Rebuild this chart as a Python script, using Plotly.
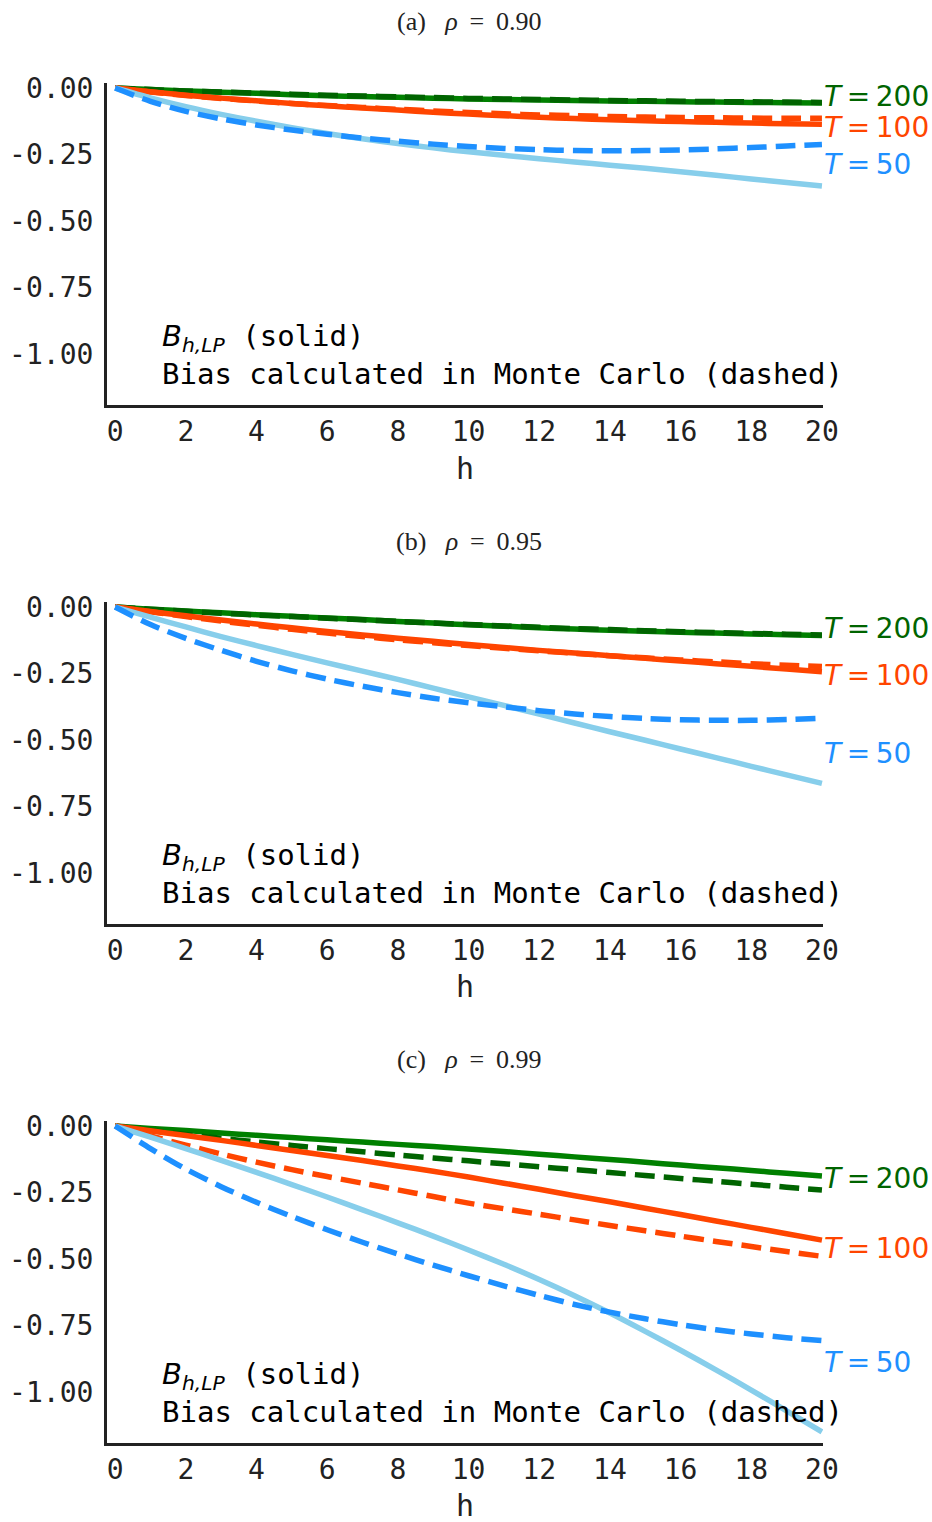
import plotly.graph_objects as go

# ---------------- data ----------------
h = list(range(21))

# panel (a) rho = 0.90
a_T200_solid = [0, -0.006, -0.011, -0.016, -0.020, -0.025, -0.029, -0.032, -0.035, -0.038, -0.041, -0.043, -0.045, -0.047, -0.049, -0.050, -0.052, -0.053, -0.054, -0.055, -0.056]
a_T200_dash = [0, -0.006, -0.011, -0.015, -0.019, -0.023, -0.027, -0.030, -0.033, -0.036, -0.039, -0.041, -0.043, -0.045, -0.047, -0.048, -0.050, -0.051, -0.052, -0.053, -0.054]
a_T100_solid = [0, -0.014, -0.027, -0.038, -0.048, -0.058, -0.067, -0.075, -0.083, -0.091, -0.098, -0.104, -0.110, -0.115, -0.119, -0.123, -0.126, -0.129, -0.132, -0.134, -0.136]
a_T100_dash = [0, -0.015, -0.028, -0.039, -0.049, -0.058, -0.066, -0.073, -0.080, -0.086, -0.092, -0.097, -0.101, -0.104, -0.107, -0.109, -0.111, -0.112, -0.113, -0.114, -0.114]
a_T50_solid = [0, -0.037, -0.070, -0.099, -0.125, -0.149, -0.171, -0.191, -0.209, -0.225, -0.240, -0.253, -0.266, -0.278, -0.290, -0.302, -0.315, -0.328, -0.342, -0.355, -0.368]
a_T50_dash = [0, -0.050, -0.088, -0.116, -0.139, -0.158, -0.174, -0.188, -0.200, -0.211, -0.220, -0.227, -0.232, -0.235, -0.236, -0.235, -0.233, -0.229, -0.224, -0.218, -0.212]

# panel (b) rho = 0.95
b_T200_solid = [0, -0.008, -0.015, -0.022, -0.029, -0.035, -0.041, -0.047, -0.054, -0.060, -0.067, -0.072, -0.078, -0.083, -0.087, -0.091, -0.095, -0.098, -0.101, -0.104, -0.107]
b_T200_dash = [0, -0.008, -0.016, -0.023, -0.030, -0.036, -0.042, -0.048, -0.054, -0.060, -0.066, -0.071, -0.076, -0.081, -0.085, -0.089, -0.093, -0.096, -0.099, -0.102, -0.105]
b_T100_solid = [0, -0.017, -0.033, -0.049, -0.064, -0.078, -0.092, -0.105, -0.117, -0.129, -0.141, -0.152, -0.163, -0.173, -0.183, -0.193, -0.203, -0.213, -0.223, -0.233, -0.243]
b_T100_dash = [0, -0.018, -0.036, -0.053, -0.069, -0.084, -0.098, -0.111, -0.123, -0.134, -0.145, -0.155, -0.165, -0.174, -0.183, -0.191, -0.199, -0.206, -0.213, -0.219, -0.224]
b_T50_solid = [0, -0.038, -0.075, -0.111, -0.145, -0.178, -0.210, -0.241, -0.272, -0.305, -0.338, -0.370, -0.403, -0.436, -0.469, -0.501, -0.534, -0.566, -0.599, -0.631, -0.663]
b_T50_dash = [0, -0.066, -0.118, -0.163, -0.204, -0.240, -0.271, -0.298, -0.322, -0.343, -0.360, -0.375, -0.390, -0.402, -0.412, -0.419, -0.424, -0.426, -0.426, -0.423, -0.418]

# panel (c) rho = 0.99
c_T200_solid = [0, -0.009, -0.017, -0.026, -0.035, -0.043, -0.052, -0.060, -0.069, -0.077, -0.086, -0.096, -0.106, -0.116, -0.126, -0.136, -0.147, -0.157, -0.167, -0.178, -0.188]
c_T200_dash = [0, -0.017, -0.032, -0.046, -0.060, -0.073, -0.085, -0.097, -0.109, -0.120, -0.131, -0.142, -0.153, -0.164, -0.175, -0.186, -0.197, -0.208, -0.219, -0.230, -0.241]
c_T100_solid = [0, -0.018, -0.036, -0.054, -0.073, -0.092, -0.111, -0.130, -0.150, -0.170, -0.192, -0.215, -0.238, -0.262, -0.285, -0.309, -0.333, -0.357, -0.381, -0.405, -0.429]
c_T100_dash = [0, -0.037, -0.072, -0.105, -0.136, -0.164, -0.190, -0.215, -0.240, -0.265, -0.290, -0.311, -0.332, -0.353, -0.374, -0.394, -0.414, -0.434, -0.453, -0.472, -0.490]
c_T50_solid = [0, -0.042, -0.085, -0.129, -0.174, -0.220, -0.267, -0.315, -0.364, -0.414, -0.466, -0.520, -0.577, -0.638, -0.703, -0.772, -0.843, -0.917, -0.993, -1.071, -1.150]
c_T50_dash = [0, -0.085, -0.162, -0.228, -0.287, -0.340, -0.390, -0.437, -0.481, -0.523, -0.563, -0.601, -0.637, -0.671, -0.700, -0.725, -0.747, -0.766, -0.782, -0.796, -0.807]

panel_titles = ["(a)", "(b)", "(c)"]
panel_rho = ["0.90", "0.95", "0.99"]
T_labels = ["200", "100", "50"]
# vertical position of the T labels (data units) per panel
T_label_y = [[-0.030, -0.150, -0.289], [-0.079, -0.256, -0.549], [-0.199, -0.462, -0.891]]

y_tickvals = [0, -0.25, -0.5, -0.75, -1.0]
y_ticktext = ["0.00", "-0.25", "-0.50", "-0.75", "-1.00"]
x_tickvals = list(range(0, 21, 2))

# ---------------- style ----------------
MONO = "DejaVu Sans Mono"
SANS = "DejaVu Sans"
SERIF = "Liberation Serif"
INK = "#222222"
col_solid = {"200": "#008000", "100": "#FF4500", "50": "#87CEEB"}
col_dash = {"200": "#006400", "100": "#FF4500", "50": "#1E90FF"}
col_label = {"200": "#006400", "100": "#FF4500", "50": "#1E90FF"}

data = [
    {"200": (a_T200_solid, a_T200_dash), "100": (a_T100_solid, a_T100_dash), "50": (a_T50_solid, a_T50_dash)},
    {"200": (b_T200_solid, b_T200_dash), "100": (b_T100_solid, b_T100_dash), "50": (b_T50_solid, b_T50_dash)},
    {"200": (c_T200_solid, c_T200_dash), "100": (c_T100_solid, c_T100_dash), "50": (c_T50_solid, c_T50_dash)},
]

W, H = 932, 1522
x_dom = [107 / W, 823 / W]
# pixel top/bottom of each plot area
plot_px = [(82.7, 404.5), (601.7, 923.5), (1120.7, 1442.5)]
title_px = [22, 541, 1059]
xlabel_px = [468, 987, 1505]

fig = go.Figure()
layout = dict(
    width=W, height=H,
    margin=dict(l=0, r=0, t=0, b=0, pad=0, autoexpand=False),
    paper_bgcolor="white", plot_bgcolor="white",
    showlegend=False,
    annotations=[],
)

for i in range(3):
    xa = "x" if i == 0 else f"x{i+1}"
    ya = "y" if i == 0 else f"y{i+1}"
    for T in T_labels:
        solid, dash = data[i][T]
        fig.add_trace(go.Scatter(x=h, y=solid, mode="lines", xaxis=xa, yaxis=ya,
                                 line=dict(color=col_solid[T], width=5.5, shape="spline", smoothing=0.8)))
        fig.add_trace(go.Scatter(x=h, y=dash, mode="lines", xaxis=xa, yaxis=ya,
                                 line=dict(color=col_dash[T], width=5.5, dash="20px,9px",
                                           shape="spline", smoothing=0.8)))
    top, bot = plot_px[i]
    layout["xaxis" if i == 0 else f"xaxis{i+1}"] = dict(
        domain=x_dom, anchor=ya, range=[-0.23, 20.03], automargin=False,
        showline=True, linewidth=3, linecolor=INK, showgrid=False, zeroline=False,
        ticks="", tickvals=x_tickvals, ticklabelstandoff=0,
        tickfont=dict(family=MONO, size=28, color=INK),
    )
    layout["yaxis" if i == 0 else f"yaxis{i+1}"] = dict(
        domain=[1 - bot / H, 1 - top / H], anchor=xa, range=[-1.19, 0.02], automargin=False,
        showline=True, linewidth=3, linecolor=INK, showgrid=False, zeroline=False,
        ticks="", tickvals=y_tickvals, ticktext=y_ticktext, ticklabelstandoff=5,
        tickfont=dict(family=MONO, size=28, color=INK),
    )
    # panel title
    layout["annotations"].append(dict(
        xref="paper", yref="paper", x=469 / W, y=1 - title_px[i] / H,
        xanchor="center", yanchor="middle", showarrow=False,
        text=f"{panel_titles[i]}\u00a0\u00a0\u00a0<i>ρ</i>\u00a0\u2009=\u00a0\u2009{panel_rho[i]}",
        font=dict(family=SERIF, size=26, color=INK),
    ))
    # x label
    layout["annotations"].append(dict(
        xref="paper", yref="paper", x=465 / W, y=1 - xlabel_px[i] / H,
        xanchor="center", yanchor="middle", showarrow=False,
        text="h", font=dict(family=MONO, size=30, color=INK),
    ))
    # in-plot legend text
    layout["annotations"].append(dict(
        xref=xa, yref=ya, x=1.27, y=-0.94, xanchor="left", yanchor="middle", showarrow=False,
        text=(f"<span style='font-family:{SANS}'><i>B</i><sub><i>h,LP</i></sub></span> (solid)"),
        font=dict(family=MONO, size=29, color="black"),
    ))
    layout["annotations"].append(dict(
        xref=xa, yref=ya, x=1.27, y=-1.075, xanchor="left", yanchor="middle", showarrow=False,
        text="Bias calculated in Monte Carlo (dashed)",
        font=dict(family=MONO, size=29, color="black"),
    ))
    # T labels
    for T, ty in zip(T_labels, T_label_y[i]):
        layout["annotations"].append(dict(
            xref=xa, yref=ya, x=20, y=ty, xanchor="left", yanchor="middle", showarrow=False,
            text=f"<i>T</i>\u2009=\u2009{T}", font=dict(family=SANS, size=28, color=col_label[T]),
        ))

fig.update_layout(**layout)
fig.write_html("out.html", config={"displayModeBar": False},
               post_script="document.body.style.margin='0';document.body.style.overflow='hidden';")
